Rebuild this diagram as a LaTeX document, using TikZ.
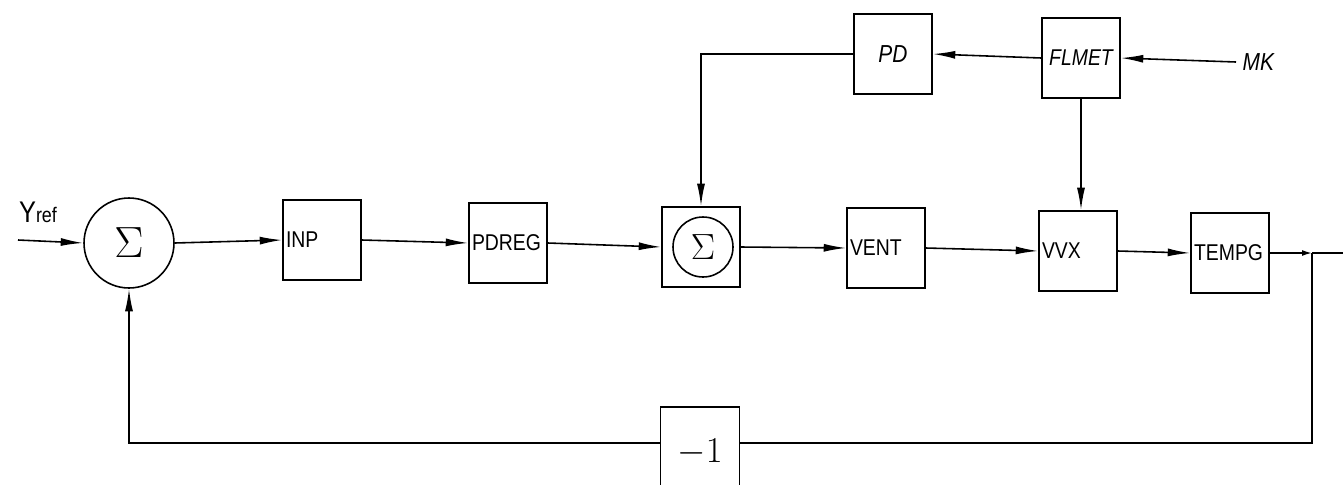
\documentclass[tikz,border=0pt]{standalone}
\usepackage{fontspec}
\setmainfont{Liberation Sans}[FakeStretch=0.85]
\usetikzlibrary{arrows.meta}

\begin{document}
\begin{tikzpicture}[x=0.02cm, y=-0.02cm, line width=0.9pt,
    blk/.style={draw, minimum height=1.6cm, text width=1.44cm, inner xsep=0.06cm,
        align=left, font=\fontsize{13}{15}\selectfont},
    sumc/.style={draw, circle, inner sep=0pt},
    arr/.style={-{Latex[length=4.5mm, width=1.6mm]}},
    sarr/.style={-{Latex[length=2mm, width=1.2mm]}}]
    \useasboundingbox (0,0) rectangle (1343,484);

    % forward path
    \node[sumc, minimum size=1.8cm, font=\fontsize{26}{28}\selectfont] (sum1) at (129,243) {$\Sigma$};
    \node[blk] (inp) at (322,240) {INP};
    \node[blk] (pdreg) at (508,243) {PDREG};
    \node[draw, minimum width=1.56cm, minimum height=1.6cm] (sum2) at (701,247) {};
    \node[sumc, minimum size=1.2cm, font=\fontsize{22}{24}\selectfont] (sum2c) at (703,247) {$\Sigma$};
    \node[blk] (vent) at (886,248) {VENT};
    \node[blk] (vvx) at (1078,251) {VVX};
    \node[blk] (tempg) at (1230,253) {TEMPG};

    % upper branch
    \node[blk, font=\fontsize{14}{16}\selectfont\itshape, align=center] (pd) at (893,54) {PD};
    \node[blk, font=\fontsize{13}{15}\selectfont\itshape, align=center] (flmet) at (1081,58) {FLMET};
    \node[font=\fontsize{14}{16}\selectfont\itshape, anchor=west] (mk) at (1236,62) {MK};

    % feedback gain
    \node[draw, minimum width=1.58cm, minimum height=1.8cm, font=\fontsize{22}{24}\selectfont] (neg) at (700,452) {$-1$};

    % reference input
    \node[font=\fontsize{17}{19}\selectfont] (yref) at (38,212) {Y{\fontsize{12}{14}\selectfont ref}};
    \coordinate (yin) at (18,240);

    % corner points
    \coordinate (pdc) at (701,54);
    \coordinate (branch) at (1312,253);
    \coordinate (out) at (1343,253);
    \coordinate (fbR) at (1312,443);
    \coordinate (fbL) at (129,443);

    % connectors
    \draw[arr] (yin) -- (sum1.west);
    \draw[arr] (sum1.east) -- (inp.west);
    \draw[arr] (inp.east) -- (pdreg.west);
    \draw[arr] (pdreg.east) -- (sum2.west);
    \draw[arr] (sum2.east) -- (vent.west);
    \draw[arr] (vent.east) -- (vvx.west);
    \draw[arr] (vvx.east) -- (tempg.west);
    \draw[sarr] (tempg.east) -- (branch);
    \draw (branch) -- (out);

    \draw[arr] (mk.west) -- (flmet.east);
    \draw[arr] (flmet.west) -- (pd.east);
    \draw[arr] (pd.west) -- (pdc) -- (sum2.north);
    \draw[arr] (flmet.south) -- (flmet.south |- vvx.north);

    \draw (branch) -- (fbR) -- (neg.east |- fbR);
    \draw[arr] (neg.west |- fbR) -- (fbL) -- (sum1.south);
\end{tikzpicture}
\end{document}
